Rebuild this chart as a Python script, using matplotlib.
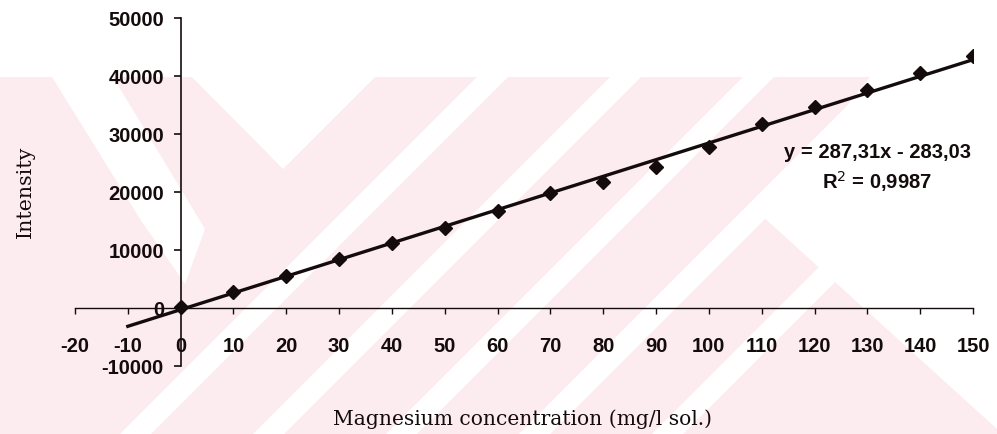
import numpy as np
import matplotlib
matplotlib.use("Agg")
import matplotlib.pyplot as plt
from matplotlib.patches import Polygon

# concentration (mg/l) and measured intensity
conc = [0, 10, 20, 30, 40, 50, 60, 70, 80, 90, 100, 110, 120, 130, 140, 150]
intensity = [150, 2800, 5600, 8450, 11200, 13800, 16800, 19800, 21800, 24250,
             27800, 31700, 34700, 37650, 40600, 43400]

# trendline as printed on the chart
slope = 287.31
intercept = -283.03
r2 = 0.9987
fit_x = [-10, 150]

x_ticks = list(range(-20, 151, 10))
y_ticks = list(range(-10000, 50001, 10000))

W, H = 997, 435
fig = plt.figure(figsize=(W / 100, H / 100), dpi=100)

# pale pink watermark in the background (figure pixel coords, y down)
wm = fig.add_axes([0, 0, 1, 1], zorder=0)
wm.set_xlim(0, W)
wm.set_ylim(H, 0)
wm.axis("off")
pink = "#fcebef"
top, bot = 78, 435
drop = bot - top
wm.add_patch(Polygon([(0, top), (870, top), (760, 215), (997, 430), (997, bot), (0, bot)],
                     closed=True, facecolor=pink, edgecolor="none"))
# white "/" gaps
for x0 in [477, 610, 743, 876, 1009]:
    wm.add_patch(Polygon([(x0, top), (x0 + 31, top), (x0 + 31 - drop, bot), (x0 - drop, bot)],
                         closed=True, facecolor="white", edgecolor="none"))
# white "\" gap and notch on the left
wm.add_patch(Polygon([(52, top), (113, top), (205, 230), (185, 285), (140, 220)],
                     closed=True, facecolor="white", edgecolor="none"))
wm.add_patch(Polygon([(192, top), (375, top), (283, 170)],
                     closed=True, facecolor="white", edgecolor="none"))

ax = fig.add_axes([75 / W, (H - 367) / H, (973 - 75) / W, (367 - 19) / H], zorder=1)
ax.patch.set_alpha(0)

ink = "#140c0c"
fx = np.array(fit_x, dtype=float)
ax.plot(fx, slope * fx + intercept, color=ink, lw=2.4, zorder=2)
ax.plot(conc, intensity, linestyle="none", marker="D", ms=7.5,
        color=ink, mec=ink, zorder=3)

ax.set_xlim(-20, 150)
ax.set_ylim(-10000, 50000)
ax.set_xticks(x_ticks)
ax.set_yticks(y_ticks)
ax.set_xticklabels([str(v) for v in x_ticks])
ax.set_yticklabels([str(v) for v in y_ticks])

for side in ["top", "right"]:
    ax.spines[side].set_visible(False)
ax.spines["left"].set_position(("data", 0))
ax.spines["bottom"].set_position(("data", 0))
ax.spines["left"].set_color(ink)
ax.spines["bottom"].set_color(ink)
ax.spines["left"].set_linewidth(1.2)
ax.spines["bottom"].set_linewidth(1.0)

tick_font = {"family": "Liberation Sans", "size": 14.5, "weight": "bold"}
ax.tick_params(axis="y", direction="out", length=5, width=1.2, color=ink, pad=7)
ax.tick_params(axis="x", direction="out", length=4, width=1.0, color=ink, pad=16)
for lab in ax.get_xticklabels() + ax.get_yticklabels():
    lab.set_fontfamily(tick_font["family"])
    lab.set_fontsize(tick_font["size"])
    lab.set_fontweight(tick_font["weight"])
    lab.set_color(ink)

fig.text(877 / W, 1 - 153 / H, "y = 287,31x - 283,03", ha="center", va="center",
         color=ink, **tick_font)
fig.text(877 / W, 1 - 182 / H, "R$^2$ = 0,9987", ha="center", va="center",
         color=ink, **tick_font)

fig.text(25 / W, 1 - 192 / H, "Intensity", rotation=90, ha="center", va="center",
         family="DejaVu Serif", size=14.8, color=ink)
fig.text(522 / W, 1 - 419 / H, "Magnesium concentration (mg/l sol.)", ha="center",
         va="center", family="DejaVu Serif", size=14.6, color=ink)

fig.savefig("out.png", dpi=100)
